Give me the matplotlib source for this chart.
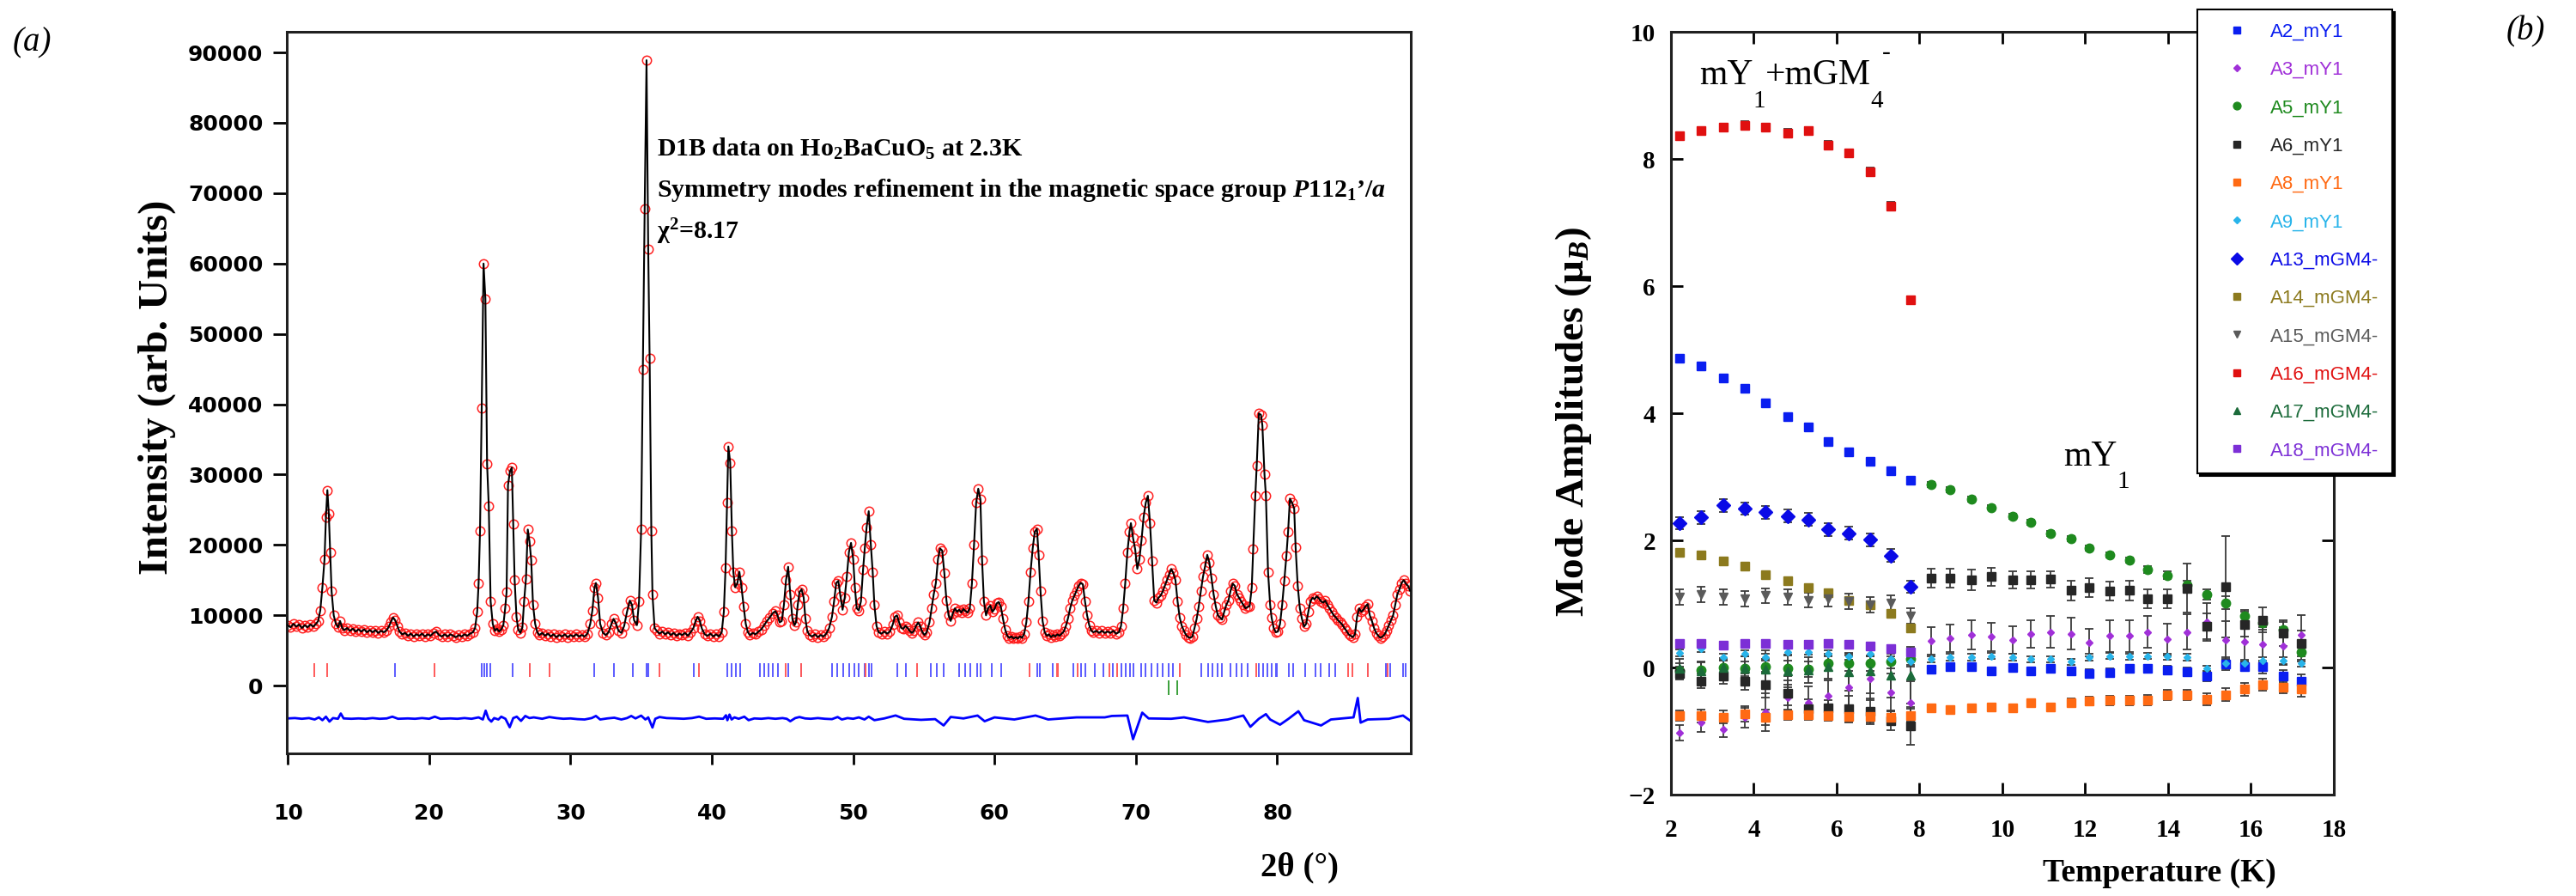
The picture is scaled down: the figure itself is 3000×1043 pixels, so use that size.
import numpy as np
import matplotlib
matplotlib.use("Agg")
import matplotlib.pyplot as plt

plt.rcParams['mathtext.fontset'] = 'custom'
plt.rcParams['mathtext.rm'] = 'Liberation Serif:bold'
plt.rcParams['mathtext.it'] = 'Liberation Serif:italic:bold'
plt.rcParams['mathtext.bf'] = 'Liberation Serif:bold'

# ---------------- panel (a): D1B pattern, (2theta, counts)
obs_points = [
    (10.0, 8600), (10.2, 8300), (10.4, 8800), (10.6, 8400), (10.8, 8700), (11.0, 8200), (11.2, 8600),
    (11.4, 8300), (11.6, 8700), (11.8, 8400), (12.0, 8800), (12.15, 9200), (12.3, 10700), (12.45, 14000),
    (12.6, 18000), (12.7, 24000), (12.8, 27800), (12.9, 24500), (13.0, 19000), (13.1, 13400), (13.25, 10000),
    (13.4, 8800), (13.55, 8300), (13.7, 9200), (13.85, 8200), (14.0, 7900), (14.2, 8200), (14.4, 7800),
    (14.6, 8100), (14.8, 7700), (15.0, 8000), (15.2, 7700), (15.4, 8000), (15.6, 7600), (15.8, 7900),
    (16.0, 7600), (16.2, 7900), (16.4, 7500), (16.6, 7800), (16.8, 7600), (17.0, 7900), (17.15, 8400),
    (17.3, 9100), (17.45, 9700), (17.6, 9300), (17.75, 8500), (17.9, 7700), (18.1, 7300), (18.3, 7500),
    (18.5, 7100), (18.7, 7400), (18.9, 7000), (19.1, 7300), (19.3, 7100), (19.5, 7400), (19.7, 7000),
    (19.9, 7300), (20.1, 7100), (20.3, 7500), (20.5, 7700), (20.7, 7200), (20.9, 7000), (21.1, 7300),
    (21.3, 7000), (21.5, 7300), (21.7, 7100), (21.9, 6900), (22.1, 7200), (22.3, 7000), (22.5, 7300),
    (22.7, 7100), (22.9, 7400), (23.1, 7600), (23.25, 8200), (23.4, 10500), (23.5, 14500), (23.6, 22000),
    (23.72, 39500), (23.85, 60000), (23.98, 55000), (24.1, 31500), (24.22, 25500), (24.35, 12000),
    (24.5, 8800), (24.65, 7800), (24.8, 8100), (24.95, 7700), (25.1, 8000), (25.25, 8600), (25.38, 11000),
    (25.48, 13300), (25.58, 28500), (25.72, 30500), (25.85, 31000), (25.95, 23000), (26.05, 15000),
    (26.18, 9800), (26.3, 8000), (26.45, 7500), (26.6, 8300), (26.72, 12000), (26.85, 15200), (26.98, 22200),
    (27.1, 20500), (27.22, 17900), (27.35, 11500), (27.5, 8800), (27.65, 7600), (27.8, 7200), (28.0, 7500),
    (28.2, 7100), (28.4, 7400), (28.6, 7000), (28.8, 7300), (29.0, 6900), (29.2, 7200), (29.4, 7000),
    (29.6, 7300), (29.8, 6900), (30.0, 7200), (30.2, 7000), (30.4, 7300), (30.6, 7000), (30.8, 7200),
    (31.0, 7000), (31.2, 7400), (31.4, 8800), (31.55, 10700), (31.7, 14000), (31.8, 14600), (31.95, 12500),
    (32.1, 8800), (32.3, 7500), (32.5, 7200), (32.7, 7600), (32.9, 8800), (33.05, 9500), (33.2, 8900),
    (33.4, 7800), (33.6, 7500), (33.8, 8500), (34.0, 10500), (34.2, 12100), (34.35, 11500), (34.5, 9300),
    (34.7, 8600), (34.85, 12000), (35.0, 22300), (35.12, 45000), (35.25, 67800), (35.38, 88900),
    (35.5, 62000), (35.6, 46500), (35.72, 22000), (35.8, 13000), (35.95, 8200), (36.1, 7800), (36.3, 7400),
    (36.5, 7700), (36.7, 7300), (36.9, 7600), (37.1, 7200), (37.3, 7500), (37.5, 7100), (37.7, 7400),
    (37.9, 7200), (38.1, 7500), (38.3, 7100), (38.5, 7600), (38.7, 8200), (38.85, 9200), (39.0, 9800),
    (39.15, 9200), (39.3, 8100), (39.5, 7300), (39.7, 7100), (39.9, 7400), (40.1, 7000), (40.3, 7300),
    (40.5, 7000), (40.7, 7600), (40.85, 10500), (40.97, 16700), (41.08, 26000), (41.17, 34000),
    (41.3, 31700), (41.42, 22000), (41.52, 16200), (41.65, 14000), (41.8, 14500), (41.95, 16200),
    (42.1, 14000), (42.25, 11300), (42.4, 8800), (42.55, 7600), (42.7, 7200), (42.9, 7500), (43.1, 7300),
    (43.3, 7700), (43.5, 8000), (43.7, 8600), (43.9, 9200), (44.1, 9700), (44.3, 10300), (44.5, 10600),
    (44.65, 10000), (44.8, 9000), (44.95, 9200), (45.1, 11500), (45.25, 15000), (45.4, 16900), (45.55, 13000),
    (45.7, 9500), (45.85, 8600), (45.95, 9000), (46.08, 11500), (46.2, 13300), (46.35, 13700), (46.5, 12500),
    (46.62, 9500), (46.75, 7800), (46.9, 7200), (47.1, 7000), (47.3, 7300), (47.5, 6900), (47.7, 7200),
    (47.9, 7000), (48.1, 7400), (48.3, 8200), (48.5, 9800), (48.65, 12000), (48.8, 14600), (48.95, 14900),
    (49.1, 12700), (49.25, 10800), (49.4, 12500), (49.55, 15500), (49.7, 19000), (49.85, 20300),
    (50.0, 18000), (50.12, 14000), (50.25, 11000), (50.4, 10700), (50.55, 12000), (50.7, 16500),
    (50.82, 19500), (50.95, 22500), (51.1, 24800), (51.25, 20000), (51.38, 16200), (51.5, 11500),
    (51.65, 8500), (51.8, 7600), (52.0, 7400), (52.2, 7700), (52.4, 7400), (52.6, 7700), (52.8, 8700),
    (52.95, 9800), (53.1, 10000), (53.25, 9000), (53.4, 8200), (53.55, 8100), (53.7, 8500), (53.85, 8200),
    (54.0, 7800), (54.15, 7500), (54.3, 7800), (54.45, 8500), (54.6, 9000), (54.75, 8400), (54.9, 7600),
    (55.05, 7200), (55.2, 7600), (55.4, 9000), (55.55, 11000), (55.7, 13000), (55.85, 14600), (56.0, 18000),
    (56.15, 19500), (56.3, 19200), (56.45, 16000), (56.6, 12100), (56.75, 10000), (56.9, 9200),
    (57.05, 10300), (57.2, 11000), (57.35, 10500), (57.5, 10800), (57.65, 10400), (57.8, 10900),
    (57.95, 10600), (58.1, 10400), (58.25, 11000), (58.4, 14500), (58.55, 20000), (58.7, 26000),
    (58.85, 28000), (59.0, 26500), (59.12, 17800), (59.25, 12000), (59.4, 10000), (59.55, 11000),
    (59.7, 11400), (59.85, 10500), (60.0, 10900), (60.15, 11700), (60.3, 11900), (60.45, 11200),
    (60.6, 9500), (60.75, 8000), (60.9, 7100), (61.05, 6800), (61.2, 7000), (61.35, 6700), (61.5, 6900),
    (61.65, 6700), (61.8, 7000), (61.95, 6800), (62.1, 7400), (62.25, 9000), (62.4, 12000), (62.55, 16200),
    (62.7, 19500), (62.85, 21900), (63.0, 22300), (63.12, 18600), (63.25, 13500), (63.4, 9200),
    (63.55, 7600), (63.7, 7100), (63.85, 7300), (64.0, 6900), (64.15, 7200), (64.3, 7000), (64.45, 7300),
    (64.6, 7100), (64.75, 7400), (64.9, 7700), (65.05, 8500), (65.2, 9600), (65.35, 11000), (65.5, 12100),
    (65.65, 12800), (65.8, 13500), (65.95, 14200), (66.1, 14600), (66.25, 14400), (66.4, 12000),
    (66.55, 10000), (66.7, 8600), (66.85, 7800), (67.0, 7600), (67.2, 7800), (67.4, 7500), (67.6, 7800),
    (67.8, 7500), (68.0, 7700), (68.2, 7500), (68.4, 7800), (68.6, 7400), (68.8, 7600), (68.95, 8500),
    (69.1, 11000), (69.25, 14600), (69.4, 19000), (69.55, 21900), (69.65, 23100), (69.8, 21000),
    (69.95, 19400), (70.1, 16600), (70.25, 18000), (70.4, 20700), (70.55, 24000), (70.7, 26000),
    (70.85, 27000), (71.0, 23100), (71.15, 17700), (71.3, 12100), (71.45, 11800), (71.6, 12500),
    (71.75, 12800), (71.9, 13400), (72.05, 14200), (72.2, 15000), (72.35, 15800), (72.5, 16600),
    (72.65, 16000), (72.8, 15000), (72.95, 12000), (73.1, 9700), (73.25, 8500), (73.4, 7800), (73.55, 7200),
    (73.7, 6900), (73.85, 6800), (74.0, 7000), (74.15, 8200), (74.3, 9500), (74.45, 11300), (74.6, 13500),
    (74.75, 15500), (74.9, 17000), (75.05, 18600), (75.2, 17500), (75.35, 15300), (75.5, 13000),
    (75.65, 11300), (75.8, 10000), (75.95, 9700), (76.1, 9400), (76.25, 10500), (76.4, 11500),
    (76.55, 12100), (76.7, 13500), (76.85, 14500), (77.0, 14200), (77.15, 13000), (77.3, 12500),
    (77.45, 12000), (77.6, 11500), (77.75, 11000), (77.9, 11200), (78.05, 11300), (78.2, 14000),
    (78.3, 19400), (78.45, 27000), (78.55, 31300), (78.7, 38700), (78.85, 38500), (78.95, 37000),
    (79.1, 30000), (79.2, 27000), (79.35, 16200), (79.5, 11500), (79.6, 9700), (79.75, 8200), (79.9, 7600),
    (80.05, 7700), (80.2, 8800), (80.35, 11500), (80.5, 14900), (80.65, 18500), (80.77, 21900),
    (80.9, 26600), (81.05, 26000), (81.2, 25200), (81.3, 19700), (81.45, 14200), (81.6, 11000),
    (81.75, 9500), (81.9, 8400), (82.05, 8800), (82.2, 10500), (82.35, 12000), (82.5, 12500), (82.65, 12300),
    (82.8, 12700), (82.95, 12400), (83.1, 12000), (83.25, 11800), (83.4, 12100), (83.55, 11500),
    (83.7, 11000), (83.85, 10500), (84.0, 10000), (84.15, 9700), (84.3, 9300), (84.45, 9000), (84.6, 8700),
    (84.75, 8200), (84.9, 7800), (85.05, 7300), (85.2, 7100), (85.35, 6900), (85.5, 7300), (85.65, 9800),
    (85.8, 11000), (85.95, 10500), (86.1, 10800), (86.25, 11300), (86.4, 11600), (86.55, 10000),
    (86.7, 9200), (86.85, 8200), (87.0, 7500), (87.15, 7100), (87.3, 6800), (87.45, 7000), (87.6, 7300),
    (87.75, 7900), (87.9, 8600), (88.05, 9300), (88.2, 10000), (88.35, 11500), (88.5, 13000),
    (88.65, 13700), (88.8, 14600), (88.95, 15000), (89.1, 14500), (89.25, 14200), (89.4, 13500),
]

diff_points = [
    (10.0, -4650), (10.5, -4600), (11.0, -4700), (11.5, -4600), (11.9, -4800), (12.2, -4500), (12.45, -4900),
    (12.7, -4400), (12.95, -5100), (13.2, -4600), (13.55, -4700), (13.75, -3950), (13.95, -4650),
    (14.5, -4700), (15.0, -4650), (15.5, -4700), (16.0, -4600), (16.5, -4700), (17.0, -4650), (17.4, -4400),
    (17.8, -4700), (18.5, -4650), (19.0, -4700), (19.5, -4600), (20.0, -4700), (20.4, -4400), (20.8, -4700),
    (21.5, -4650), (22.0, -4700), (22.5, -4600), (23.0, -4700), (23.5, -4500), (23.8, -4800), (24.0, -3550),
    (24.2, -4700), (24.4, -5100), (24.6, -4600), (24.9, -4800), (25.1, -4400), (25.4, -4700), (25.7, -5900),
    (25.95, -4600), (26.2, -4400), (26.5, -5000), (26.8, -4300), (27.1, -4600), (27.4, -4500), (28.0, -4700),
    (28.5, -4450), (29.0, -4600), (29.5, -4700), (30.0, -4650), (30.5, -4750), (31.0, -4800), (31.5, -4600),
    (31.8, -4300), (32.1, -4800), (32.6, -4650), (33.1, -4550), (33.6, -4800), (34.0, -4600), (34.3, -4300),
    (34.6, -4650), (35.0, -4250), (35.3, -4800), (35.5, -4500), (35.8, -5950), (36.0, -4700), (36.3, -4450),
    (36.8, -4600), (37.5, -4650), (38.0, -4700), (38.6, -4600), (39.1, -4400), (39.6, -4700), (40.2, -4650),
    (40.8, -4700), (41.0, -4200), (41.1, -4900), (41.25, -4100), (41.4, -4800), (41.6, -4500), (41.9, -4700),
    (42.3, -4400), (42.6, -4900), (43.0, -4650), (43.5, -4700), (44.0, -4600), (44.5, -4700), (45.0, -4600),
    (45.3, -4700), (45.55, -5050), (45.9, -4600), (46.2, -4450), (46.6, -4650), (47.0, -4700), (47.5, -4600),
    (48.0, -4700), (48.5, -4750), (48.9, -4450), (49.2, -4800), (49.6, -4600), (50.0, -4700), (50.4, -4500),
    (50.8, -4800), (51.1, -4400), (51.5, -4900), (52.2, -4650), (53.0, -4230), (53.6, -4700), (54.8, -4850),
    (55.8, -4750), (56.4, -5650), (56.9, -4440), (57.8, -4650), (58.8, -4240), (59.3, -5050), (60.0, -4500),
    (61.4, -4800), (62.9, -4240), (63.8, -4800), (65.8, -4500), (67.8, -4500), (68.3, -4300), (69.4, -4240),
    (69.8, -7600), (70.45, -3830), (70.9, -4650), (72.5, -4700), (73.4, -4500), (75.1, -5150), (76.5, -4800),
    (77.6, -4240), (78.1, -5840), (78.7, -4700), (79.2, -4040), (79.5, -4800), (80.2, -5540), (80.8, -4700),
    (81.5, -3630), (81.9, -4900), (83.1, -5650), (83.8, -4800), (85.4, -4500), (85.7, -1740), (85.9, -5250),
    (86.4, -4800), (87.9, -4700), (88.9, -4240), (89.4, -4950),
]

bragg_blue = [17.6, 23.7, 23.9, 24.1, 24.3, 25.9, 27.1, 31.7, 33.1, 34.4, 35.4, 35.5, 38.7, 41.1, 41.4,
              41.7, 42.0, 43.4, 43.7, 44.0, 44.3, 44.7, 45.4, 46.3, 48.5, 48.9, 49.3, 49.7, 50.1, 50.4,
              50.8, 51.1, 51.3, 53.1, 53.7, 55.5, 55.9, 56.4, 57.5, 57.9, 58.3, 58.8, 59.0, 59.8, 60.5,
              63.0, 63.2, 64.1, 65.6, 66.1, 66.4, 67.1, 67.7, 68.4, 69.0, 69.3, 69.6, 69.8, 70.4, 70.7,
              71.1, 71.5, 71.9, 72.3, 72.6, 74.6, 75.1, 75.4, 75.8, 76.1, 76.7, 77.1, 77.5, 77.9, 78.7,
              79.0, 79.3, 79.6, 79.9, 80.0, 80.8, 81.1, 82.0, 82.7, 83.1, 83.7, 84.1, 86.4, 87.7, 88.0,
              88.9, 89.1]
bragg_red = [11.9, 12.8, 20.4, 27.1, 28.5, 36.3, 39.1, 45.2, 46.3, 50.9, 54.5, 62.5, 64.4, 64.5, 65.9,
             68.1, 68.7, 73.1, 78.5, 85.0, 85.3, 86.4, 87.8]
bragg_green = [72.3, 72.9]

# ---------------- panel (b): mode amplitudes vs temperature
T_low = [2.2, 2.73, 3.27, 3.78, 4.28, 4.82, 5.31, 5.8, 6.3, 6.8, 7.3, 7.78]
T_high = [8.28, 8.74, 9.26, 9.74, 10.24, 10.69, 11.17, 11.65, 12.1, 12.6, 13.06, 13.5, 13.97, 14.45,
          14.93, 15.38, 15.84, 16.29, 16.77, 17.21]

A2 = [4.86, 4.74, 4.55, 4.39, 4.16, 3.95, 3.78, 3.55, 3.39, 3.24, 3.09, 2.94,
      -0.03, 0.02, 0.01, -0.05, 0.0, -0.06, -0.01, -0.05, -0.09, -0.08, -0.02, -0.02, -0.04, -0.07,
      -0.14, 0.06, 0.02, 0.01, -0.14, -0.21]
A2_err = [0.02] * 12 + [0.05, 0.05, 0.05, 0.05, 0.05, 0.05, 0.05, 0.05, 0.06, 0.06, 0.06, 0.06, 0.07,
                        0.07, 0.08, 0.1, 0.08, 0.1, 0.1, 0.1]
A3 = [-1.03, -0.87, -0.97, -0.79, -0.70, -0.47, -0.55, -0.45, -0.31, -0.17, -0.39, -0.56,
      0.42, 0.46, 0.51, 0.48, 0.43, 0.53, 0.56, 0.53, 0.39, 0.50, 0.50, 0.56, 0.44, 0.56, 0.72, 0.43,
      0.40, 0.36, 0.34, 0.52]
A3_err = [0.12, 0.15, 0.12, 0.15, 0.3, 0.2, 0.25, 0.25, 0.35, 0.35, 0.3, 0.35,
          0.22, 0.22, 0.23, 0.22, 0.22, 0.22, 0.25, 0.25, 0.22, 0.25, 0.25, 0.25, 0.25, 0.28, 0.3, 0.3,
          0.3, 0.28, 0.3, 0.3]
A5 = [-0.05, -0.04, 0.0, -0.02, 0.02, -0.01, -0.03, 0.07, 0.07, 0.07, 0.1, 0.13,
      2.88, 2.80, 2.65, 2.52, 2.38, 2.28, 2.11, 2.03, 1.88, 1.77, 1.69, 1.54, 1.45, 1.30, 1.15, 1.02,
      0.81, 0.70, 0.59, 0.25]
A5_err = [0.12] * 12 + [0.04] * 11 + [0.06, 0.06, 0.07, 0.08, 0.1, 0.1, 0.1, 0.12, 0.15]
A6 = [-0.09, -0.21, -0.14, -0.22, -0.27, -0.40, -0.65, -0.64, -0.65, -0.69, -0.84, -0.92,
      1.41, 1.41, 1.38, 1.43, 1.38, 1.38, 1.39, 1.21, 1.26, 1.20, 1.21, 1.08, 1.08, 1.25, 0.65, 1.27,
      0.68, 0.75, 0.54, 0.38]
A6_err = [0.1, 0.12, 0.12, 0.13, 0.2, 0.2, 0.15, 0.12, 0.2, 0.2, 0.15, 0.3,
          0.15, 0.15, 0.16, 0.14, 0.14, 0.14, 0.13, 0.15, 0.15, 0.15, 0.15, 0.15, 0.15, 0.38, 0.2, 0.8,
          0.2, 0.2, 0.2, 0.2]
A8 = [-0.76, -0.76, -0.78, -0.73, -0.78, -0.74, -0.74, -0.76, -0.77, -0.77, -0.78, -0.75,
      -0.63, -0.66, -0.63, -0.62, -0.63, -0.56, -0.62, -0.55, -0.53, -0.52, -0.52, -0.51, -0.43, -0.43,
      -0.50, -0.43, -0.34, -0.27, -0.31, -0.34]
A8_err = [0.08, 0.1, 0.1, 0.12, 0.12, 0.08, 0.08, 0.08, 0.1, 0.1, 0.1, 0.1,
          0.04, 0.04, 0.04, 0.04, 0.05, 0.04, 0.04, 0.06, 0.07, 0.07, 0.07, 0.08, 0.08, 0.08, 0.1, 0.1,
          0.1, 0.1, 0.1, 0.12]
A9 = [0.23, 0.30, 0.16, 0.22, 0.16, 0.25, 0.25, 0.22, 0.17, 0.22, 0.13, 0.09,
      0.13, 0.16, 0.16, 0.18, 0.16, 0.13, 0.13, 0.09, 0.16, 0.18, 0.17, 0.18, 0.17, 0.16, -0.02, 0.07,
      0.07, 0.11, 0.11, 0.07]
A9_err = [0.05] * 32
A13 = [2.27, 2.36, 2.55, 2.50, 2.44, 2.38, 2.33, 2.17, 2.11, 2.01, 1.76, 1.27]
A13_err = [0.1] * 12
A14 = [1.81, 1.77, 1.67, 1.59, 1.46, 1.36, 1.26, 1.17, 1.05, 0.98, 0.85, 0.62]
A14_err = [0.04] * 12
A15 = [1.11, 1.15, 1.11, 1.08, 1.13, 1.11, 1.06, 1.08, 1.04, 0.99, 1.01, 0.81]
A15_err = [0.12] * 12
A16 = [8.36, 8.44, 8.50, 8.53, 8.50, 8.41, 8.44, 8.22, 8.09, 7.80, 7.26, 5.78]
A16_err = [0.06] * 12
A17 = [-0.02, -0.05, 0.0, -0.02, -0.03, -0.06, -0.04, 0.02, -0.07, -0.05, -0.12, -0.12]
A17_err = [0.15, 0.15, 0.15, 0.2, 0.3, 0.25, 0.2, 0.2, 0.3, 0.35, 0.35, 0.45]
A18 = [0.38, 0.38, 0.35, 0.38, 0.38, 0.36, 0.37, 0.38, 0.36, 0.34, 0.30, 0.24]
A18_err = [0.05] * 12

W, H = 3000, 1043
fig = plt.figure(figsize=(W / 100, H / 100), dpi=100)
serif = 'Liberation Serif'

# ================= (a)
axL = fig.add_axes([333.5 / W, 1 - 877 / H, (1643 - 333.5) / W, (877 - 36.5) / H])
tth = np.array([p[0] for p in obs_points])
yobs = np.array([p[1] for p in obs_points])
axL.vlines(bragg_blue, 1300, 3200, color='#5b5bff', lw=1.4)
axL.vlines(bragg_red, 1300, 3200, color='#ff5a5a', lw=1.4)
axL.vlines(bragg_green, -1300, 800, color='#3aa03a', lw=1.4)
axL.plot(tth, yobs, ls='none', marker='o', mfc='none', mec='#ff2020', ms=7.5, mew=1.1, zorder=2)
axL.plot(tth, yobs, color='black', lw=1.5, zorder=3)
axL.plot([p[0] for p in diff_points], [p[1] for p in diff_points], color='#0000ff', lw=2.0)

axL.set_xlim(9.9, 89.45)
axL.set_ylim(-9620, 93000)
axL.set_xticks(range(10, 90, 10))
axL.set_yticks(range(0, 90001, 10000))
axL.tick_params(axis='x', direction='out', length=9, width=2, pad=33, labelsize=18)
axL.tick_params(axis='y', direction='out', length=11.5, width=2, pad=8, labelsize=18)
for t in axL.get_xticklabels() + axL.get_yticklabels():
    t.set_fontweight('bold')
    t.set_fontfamily('DejaVu Sans')
for sp in axL.spines.values():
    sp.set_linewidth(2.2)
    sp.set_color('#202020')

txt_x = 0.3295
axL.text(txt_x, 0.8376, 'D1B data on Ho$_2$BaCuO$_5$ at 2.3K', transform=axL.transAxes,
         family=serif, weight='bold', fontsize=21.5, va='center', ha='left')
axL.text(txt_x, 0.7793, 'Symmetry modes refinement in the magnetic space group $P$112$_1$\u2019/$a$',
         transform=axL.transAxes, family=serif, weight='bold', fontsize=21.5, va='center', ha='left')
axL.text(txt_x, 0.7222, '\u03c7$^2$=8.17', transform=axL.transAxes,
         family=serif, weight='bold', fontsize=21.5, va='center', ha='left')

fig.text(183 / W, 1 - 451 / H, 'Intensity (arb. Units)', rotation=90, family=serif,
         weight='bold', fontsize=35, ha='center', va='center')
fig.text(1513 / W, 1 - 1010 / H, '2\u03b8 (\u00b0)', family=serif, weight='bold', fontsize=28,
         ha='center', va='center')
fig.text(37 / W, 1 - 50 / H, '(a)', family=serif, style='italic', fontsize=28, ha='center', va='center')
fig.text(2941 / W, 1 - 37 / H, '(b)', family=serif, style='italic', fontsize=28, ha='center', va='center')

# ================= (b)
axR = fig.add_axes([1946 / W, 1 - 925 / H, (2718 - 1946) / W, (925 - 37) / H])
T_all = T_low + T_high


def draw(T, y, err, marker, color, ms, label):
    axR.errorbar(T, y, yerr=err, fmt='none', ecolor='#3a3a3a', elinewidth=1.3,
                 capsize=3.5, capthick=1.3, zorder=2)
    h, = axR.plot(T, y, ls='none', marker=marker, color=color, mec=color, ms=ms,
                  label=label, zorder=3)
    return h


handles = [
    draw(T_all, A2, A2_err, 's', '#0a1ef0', 7, 'A2_mY1'),
    draw(T_all, A3, A3_err, 'D', '#a030d8', 4.5, 'A3_mY1'),
    draw(T_all, A5, A5_err, 'o', '#1e8a1e', 7.5, 'A5_mY1'),
    draw(T_all, A6, A6_err, 's', '#262626', 7.5, 'A6_mY1'),
    draw(T_all, A8, A8_err, 's', '#ff6a13', 7.5, 'A8_mY1'),
    draw(T_all, A9, A9_err, 'D', '#28b4ea', 4.5, 'A9_mY1'),
    draw(T_low, A13, A13_err, 'D', '#0a0ae6', 8, 'A13_mGM4-'),
    draw(T_low, A14, A14_err, 's', '#8c7a1e', 7.5, 'A14_mGM4-'),
    draw(T_low, A15, A15_err, 'v', '#5a5a5a', 7, 'A15_mGM4-'),
    draw(T_low, A16, A16_err, 's', '#e01010', 7.5, 'A16_mGM4-'),
    draw(T_low, A17, A17_err, '^', '#1b6b3a', 7, 'A17_mGM4-'),
    draw(T_low, A18, A18_err, 's', '#7c2fd6', 7.5, 'A18_mGM4-'),
]

axR.set_xlim(2, 18)
axR.set_ylim(-2, 10)
axR.set_xticks(range(2, 19, 2))
axR.set_yticks(range(-2, 11, 2))
axR.tick_params(axis='both', direction='in', length=10, width=2, top=True, right=True, labelsize=21)
axR.tick_params(axis='x', pad=20)
axR.tick_params(axis='y', pad=13)
for t in axR.get_xticklabels() + axR.get_yticklabels():
    t.set_fontweight('bold')
    t.set_fontfamily(serif)
for sp in axR.spines.values():
    sp.set_linewidth(2.2)
    sp.set_color('#202020')

fig.text(1833 / W, 1 - 491 / H, 'Mode Amplitudes (\u03bc$_B$)', rotation=90, family=serif,
         weight='bold', fontsize=34, ha='center', va='center')
fig.text(2515 / W, 1 - 1017 / H, 'Temperature (K)', family=serif, weight='bold', fontsize=27,
         ha='center', va='center')

# mY1+mGM4- and mY1 labels: main text on its baseline, indices dropped well below it
big, small = 30, 21
t1 = axR.text(2.68, 9.17, 'mY', family=serif, fontsize=big, va='baseline', ha='left')
t2 = axR.annotate('1', xy=(1, 8.81), xycoords=(t1, 'data'), va='baseline', ha='left',
                  family=serif, fontsize=small)
t3 = axR.annotate('+mGM', xy=(1, 9.17), xycoords=(t2, 'data'), va='baseline', ha='left',
                  family=serif, fontsize=big)
t4 = axR.annotate('4', xy=(1, 8.81), xycoords=(t3, 'data'), va='baseline', ha='left',
                  family=serif, fontsize=small)
axR.annotate('-', xy=(0.9, 9.66), xycoords=(t4, 'data'), va='center', ha='left',
             family=serif, fontsize=small)
t6 = axR.text(11.48, 3.18, 'mY', family=serif, fontsize=big, va='baseline', ha='left')
axR.annotate('1', xy=(1, 2.82), xycoords=(t6, 'data'), va='baseline', ha='left',
             family=serif, fontsize=small)

leg = axR.legend(handles=handles, loc='upper left', bbox_to_anchor=(2559 / W, 1 - 11 / H),
                 bbox_transform=fig.transFigure, prop={'family': 'Liberation Sans', 'size': 16},
                 labelcolor='markerfacecolor', frameon=True, fancybox=False, edgecolor='black',
                 framealpha=1, borderpad=0.7, handlelength=2.75, handletextpad=0.38,
                 labelspacing=1.05, borderaxespad=0, markerscale=0.85,
                 shadow={'color': 'black', 'alpha': 1})
leg.get_frame().set_linewidth(1.5)
leg.set_zorder(10)

fig.savefig('out.png', dpi=100)
